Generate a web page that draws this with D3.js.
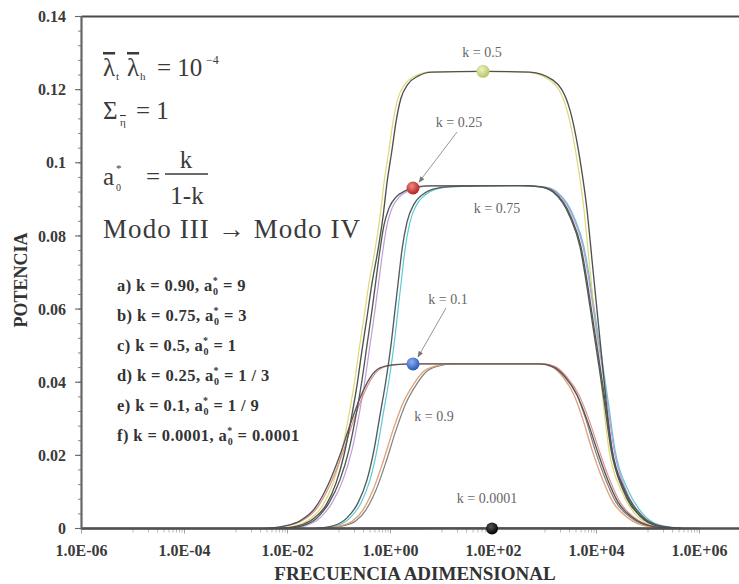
<!DOCTYPE html>
<html>
<head>
<meta charset="utf-8">
<script src="https://cdn.jsdelivr.net/npm/d3@7"></script>
<style>
  html, body { margin: 0; padding: 0; background: #fff; }
  svg { display: block; }
  text { font-family: "Liberation Serif", "Times New Roman", serif; }
</style>
</head>
<body>
<svg id="chart" width="739" height="584"></svg>
<script>
// ---- Power vs. dimensionless frequency, one curve per k (Modo III -> Modo IV) ----
// Frequencies are stored as base-10 exponents, power in absolute units.

const freqExp_k090 = [-1.369, -0.981, -0.728, -0.534, -0.340, -0.146, 0.049, 0.243, 0.437, 0.631, 0.864, 1.155, 2.903, 3.136, 3.350, 3.563, 3.738, 3.913, 4.107, 4.320, 4.612, 4.942, 5.388];
const power_k090   = [0, 0.0007, 0.0021, 0.0051, 0.0105, 0.0182, 0.0269, 0.0343, 0.0392, 0.0428, 0.0444, 0.0450, 0.0450, 0.0442, 0.0414, 0.0365, 0.0297, 0.0215, 0.0138, 0.0072, 0.0029, 0.0007, 0];

const freqExp_k075 = [-1.466, -1.117, -0.845, -0.631, -0.456, -0.320, -0.204, -0.087, 0.010, 0.087, 0.165, 0.223, 0.320, 0.456, 0.612, 0.825, 1.155, 2.515, 2.922, 3.175, 3.505, 3.699, 3.835, 3.951, 4.049, 4.165, 4.301, 4.553, 4.883, 5.233, 5.660];
const power_k075   = [0, 0.0007, 0.0029, 0.0070, 0.0133, 0.0215, 0.0310, 0.0406, 0.0502, 0.0597, 0.0693, 0.0762, 0.0838, 0.0887, 0.0912, 0.0928, 0.0935, 0.09375, 0.0934, 0.0920, 0.0852, 0.0770, 0.0660, 0.0551, 0.0461, 0.0351, 0.0215, 0.0105, 0.0034, 0.0007, 0];

const freqExp_k050 = [-2.146, -1.796, -1.505, -1.252, -1.058, -0.903, -0.767, -0.650, -0.553, -0.456, -0.359, -0.243, -0.146, -0.068, 0.029, 0.107, 0.204, 0.340, 0.534, 0.806, 1.796, 2.709, 3.155, 3.485, 3.680, 3.816, 3.913, 4.010, 4.107, 4.184, 4.301, 4.534, 4.845, 5.194, 5.621];
const power_k050   = [0, 0.0007, 0.0026, 0.0064, 0.0124, 0.0201, 0.0297, 0.0392, 0.0488, 0.0578, 0.0671, 0.0762, 0.0852, 0.0945, 0.1035, 0.1112, 0.1177, 0.1215, 0.1237, 0.1248, 0.125, 0.1248, 0.1226, 0.1144, 0.1008, 0.0871, 0.0734, 0.0597, 0.0461, 0.0351, 0.0215, 0.0105, 0.0034, 0.0007, 0];

const freqExp_k025 = [-2.049, -1.718, -1.427, -1.194, -0.981, -0.806, -0.670, -0.553, -0.456, -0.359, -0.282, -0.204, -0.126, -0.029, 0.107, 0.282, 0.437, 0.728, 2.515, 2.903, 3.155, 3.485, 3.680, 3.816, 3.932, 4.029, 4.146, 4.282, 4.515, 4.845, 5.194, 5.621];
const power_k025   = [0, 0.0007, 0.0029, 0.0070, 0.0133, 0.0215, 0.0310, 0.0406, 0.0502, 0.0597, 0.0680, 0.0762, 0.0830, 0.0876, 0.0906, 0.0923, 0.0931, 0.0937, 0.09375, 0.0934, 0.0920, 0.0852, 0.0770, 0.0660, 0.0551, 0.0461, 0.0351, 0.0215, 0.0105, 0.0034, 0.0007, 0];

const freqExp_k010 = [-2.437, -2.049, -1.757, -1.466, -1.214, -0.981, -0.786, -0.592, -0.398, -0.204, 0.087, 0.437, 2.903, 3.155, 3.388, 3.621, 3.816, 4.010, 4.204, 4.417, 4.709, 5.039, 5.466];
const power_k010   = [0, 0.0007, 0.0021, 0.0056, 0.0119, 0.0201, 0.0283, 0.0357, 0.0412, 0.0439, 0.0448, 0.0450, 0.0450, 0.0442, 0.0414, 0.0365, 0.0297, 0.0215, 0.0138, 0.0072, 0.0029, 0.0007, 0];

const freqExp_k00001 = [-6, -2, -1, 0, 1, 2, 3, 4, 5, 6];
const power_k00001   = [0, 0, 0.00001, 0.00004, 0.00005, 0.00005, 0.00005, 0.00004, 0.00001, 0];

// highlighted points on the curves: [frequency exponent, power]
const markerPoints = [[1.796, 0.125], [0.437, 0.0931], [0.437, 0.0450], [1.971, 0.0]];

// axis ticks
const yTickValues = [0, 0.02, 0.04, 0.06, 0.08, 0.10, 0.12, 0.14];
const yTickLabels = ["0", "0.02", "0.04", "0.06", "0.08", "0.1", "0.12", "0.14"];
const xTickExps   = [-6, -4, -2, 0, 2, 4, 6];
const xTickLabels = ["1.0E-06", "1.0E-04", "1.0E-02", "1.0E+00", "1.0E+02", "1.0E+04", "1.0E+06"];

// case list
const caseLetters = ["a)", "b)", "c)", "d)", "e)", "f)"];
const caseK       = ["0.90", "0.75", "0.5", "0.25", "0.1", "0.0001"];
const caseA0      = ["9", "3", "1", "1 / 3", "1 / 9", "0.0001"];

// ---------------------------------------------------------------------------
const W = 739, H = 584;
const svg = d3.select("#chart");

const x = d3.scaleLog().domain([1e-6, 1e6]).range([81.5, 699.5]);
const y = d3.scaleLinear().domain([0, 0.14]).range([528.5, 16.5]);
const fx = e => x(Math.pow(10, e));

const series = [
  { k: 0.9,    e: freqExp_k090,   p: power_k090 },
  { k: 0.75,   e: freqExp_k075,   p: power_k075 },
  { k: 0.5,    e: freqExp_k050,   p: power_k050 },
  { k: 0.25,   e: freqExp_k025,   p: power_k025 },
  { k: 0.1,    e: freqExp_k010,   p: power_k010 },
  { k: 0.0001, e: freqExp_k00001, p: power_k00001 }
].map(s => ({ k: s.k, pts: s.e.map((v, i) => [v, s.p[i]]) }));

// line styles: main stroke plus a thin companion trace drawn beside it
const style = {
  0.9:    { main: "#e0a27c", twin: "#6a6a6a", dx: 3 },
  0.75:   { main: "#525c5c", twin: "#40c2cc", dx: 3 },
  0.5:    { main: "#505050", twin: "#d9d15c", dx: -3 },
  0.25:   { main: "#4f5a53", twin: "#b78ccf", dx: 3 },
  0.1:    { main: "#575757", twin: "#d8807c", dx: 2 },
  0.0001: { main: "#222222", twin: null, dx: 0 }
};

const line = d3.line()
  .x(d => fx(d[0]))
  .y(d => y(d[1]))
  .curve(d3.curveMonotoneX);

const defs = svg.append("defs");
defs.append("marker")
  .attr("id", "arrow").attr("viewBox", "0 0 10 10")
  .attr("refX", 9).attr("refY", 5)
  .attr("markerWidth", 7).attr("markerHeight", 7)
  .attr("orient", "auto")
  .append("path").attr("d", "M0,1 L10,5 L0,9 z").attr("fill", "#777");

function ballGradient(id, light, dark) {
  const g = defs.append("radialGradient").attr("id", id)
    .attr("cx", "40%").attr("cy", "35%").attr("r", "65%");
  g.append("stop").attr("offset", "0%").attr("stop-color", light);
  g.append("stop").attr("offset", "100%").attr("stop-color", dark);
}
ballGradient("ballY", "#eef2c0", "#b8c466");
ballGradient("ballR", "#f08a80", "#b0221e");
ballGradient("ballB", "#8fb0f0", "#2a56b8");
ballGradient("ballK", "#555", "#000");

// ---- axes frame ----
const right = W + 5;
svg.append("line").attr("x1", x(1e-6)).attr("x2", right)
  .attr("y1", y(0.14)).attr("y2", y(0.14))
  .attr("stroke", "#4a4a4a").attr("stroke-width", 2);

// x minor ticks (10..90 within each two-decade step)
const xMinor = [];
xTickExps.slice(0, -1).forEach(e => {
  for (let m = 1; m <= 9; m++) xMinor.push(m * Math.pow(10, e + 1));
});
svg.append("g").selectAll("line").data(xMinor).join("line")
  .attr("x1", d => x(d)).attr("x2", d => x(d))
  .attr("y1", y(0)).attr("y2", y(0) + 4)
  .attr("stroke", "#aaa").attr("stroke-width", 0.8);
svg.append("g").selectAll("line").data(xTickExps).join("line")
  .attr("x1", d => fx(d)).attr("x2", d => fx(d))
  .attr("y1", y(0)).attr("y2", y(0) + 5)
  .attr("stroke", "#999").attr("stroke-width", 0.9);

// y ticks
const yMinor = d3.range(0, 0.1401, 0.004);
svg.append("g").selectAll("line").data(yMinor).join("line")
  .attr("x1", 78).attr("x2", x(1e-6))
  .attr("y1", d => y(d)).attr("y2", d => y(d))
  .attr("stroke", "#777").attr("stroke-width", 0.9);
svg.append("g").selectAll("line").data(yTickValues).join("line")
  .attr("x1", 75).attr("x2", x(1e-6))
  .attr("y1", d => y(d)).attr("y2", d => y(d))
  .attr("stroke", "#666").attr("stroke-width", 1.1);

svg.append("g").selectAll("text").data(yTickValues).join("text")
  .attr("x", 66).attr("y", d => y(d)).attr("dy", "0.35em")
  .attr("text-anchor", "end")
  .attr("font-size", 16).attr("font-weight", "bold").attr("fill", "#3a3a3a")
  .text((d, i) => yTickLabels[i]);

svg.append("g").selectAll("text").data(xTickExps).join("text")
  .attr("x", d => fx(d)).attr("y", 556)
  .attr("text-anchor", "middle")
  .attr("font-size", 16).attr("font-weight", "bold").attr("fill", "#3a3a3a")
  .text((d, i) => xTickLabels[i]);

// axis titles
svg.append("text")
  .attr("transform", "translate(27,280) rotate(-90)")
  .attr("text-anchor", "middle")
  .attr("font-size", 18).attr("font-weight", "bold").attr("fill", "#333")
  .text("POTENCIA");
svg.append("text")
  .attr("x", 415).attr("y", 580)
  .attr("text-anchor", "middle")
  .attr("font-size", 19).attr("font-weight", "bold").attr("fill", "#333")
  .text("FRECUENCIA ADIMENSIONAL");

// ---- curves ----
const gCurves = svg.append("g").attr("fill", "none");
series.forEach(s => {
  const st = style[s.k];
  if (st.twin) {
    gCurves.append("path").datum(s.pts)
      .attr("d", line)
      .attr("transform", `translate(${st.dx},0)`)
      .attr("stroke", st.twin).attr("stroke-width", 1.2).attr("opacity", 0.85);
  }
});
series.forEach(s => {
  const st = style[s.k];
  gCurves.append("path").datum(s.pts)
    .attr("d", line)
    .attr("stroke", st.main).attr("stroke-width", s.k === 0.0001 ? 1.6 : 1.35);
});

// axis lines on top of the curve ends
svg.append("line").attr("x1", x(1e-6)).attr("x2", right)
  .attr("y1", y(0)).attr("y2", y(0))
  .attr("stroke", "#505050").attr("stroke-width", 2.4);
svg.append("line").attr("x1", x(1e-6)).attr("x2", x(1e-6))
  .attr("y1", y(0.14)).attr("y2", y(0) + 1)
  .attr("stroke", "#666").attr("stroke-width", 2.2);

// ---- curve annotations ----
const curveLabels = [
  { t: "k = 0.5",    e: 1.777, p: 0.1303 },
  { t: "k = 0.25",   e: 1.330, p: 0.1112 },
  { t: "k = 0.75",   e: 2.068, p: 0.0876 },
  { t: "k = 0.1",    e: 1.117, p: 0.0628 },
  { t: "k = 0.9",    e: 0.845, p: 0.0308 },
  { t: "k = 0.0001", e: 1.874, p: 0.0083 }
];
svg.append("g").selectAll("text").data(curveLabels).join("text")
  .attr("x", d => fx(d.e)).attr("y", d => y(d.p)).attr("dy", "0.35em")
  .attr("text-anchor", "middle")
  .attr("font-size", 14).attr("fill", "#666")
  .text(d => d.t);

const leaders = [
  { e0: 1.291, p0: 0.1084, e1: 0.553, p1: 0.0947 },
  { e0: 1.078, p0: 0.0603, e1: 0.534, p1: 0.0469 }
];
svg.append("g").selectAll("line").data(leaders).join("line")
  .attr("x1", d => fx(d.e0)).attr("y1", d => y(d.p0))
  .attr("x2", d => fx(d.e1)).attr("y2", d => y(d.p1))
  .attr("stroke", "#8a8a8a").attr("stroke-width", 0.9)
  .attr("marker-end", "url(#arrow)");

const ballFill = ["url(#ballY)", "url(#ballR)", "url(#ballB)", "url(#ballK)"];
svg.append("g").selectAll("circle").data(markerPoints).join("circle")
  .attr("cx", d => fx(d[0])).attr("cy", d => y(d[1]))
  .attr("r", (d, i) => i === 3 ? 6 : 6.5)
  .attr("fill", (d, i) => ballFill[i]);

// ---- parameter block ----
const ink = "#3a3a3a";
const t1 = svg.append("text").attr("y", 76).attr("font-size", 25).attr("fill", ink);
t1.append("tspan").attr("x", 103).style("text-decoration", "overline").text("λ");
t1.append("tspan").attr("x", 116).attr("y", 80).attr("font-size", 11).text("t");
t1.append("tspan").attr("x", 127).attr("y", 76).style("text-decoration", "overline").text("λ");
t1.append("tspan").attr("x", 140).attr("y", 80).attr("font-size", 11).text("h");
t1.append("tspan").attr("x", 157).attr("y", 76).text("= 10");
t1.append("tspan").attr("x", 206).attr("y", 64).attr("font-size", 12).text("−4");

const t2 = svg.append("text").attr("y", 119).attr("font-size", 25).attr("fill", ink);
t2.append("tspan").attr("x", 103).text("Σ");
t2.append("tspan").attr("x", 120).attr("y", 126).attr("font-size", 11)
  .style("text-decoration", "overline").text("η");
t2.append("tspan").attr("x", 136).attr("y", 119).text("= 1");

const t3 = svg.append("text").attr("y", 185).attr("font-size", 25).attr("fill", ink);
t3.append("tspan").attr("x", 103).text("a");
t3.append("tspan").attr("x", 116).attr("y", 172).attr("font-size", 11).text("*");
t3.append("tspan").attr("x", 116).attr("y", 191).attr("font-size", 10).text("0");
t3.append("tspan").attr("x", 146).attr("y", 185).text("=");
svg.append("text").attr("x", 186).attr("y", 168).attr("text-anchor", "middle")
  .attr("font-size", 25).attr("fill", ink).text("k");
svg.append("line").attr("x1", 165).attr("x2", 208).attr("y1", 174).attr("y2", 174)
  .attr("stroke", ink).attr("stroke-width", 1.4);
svg.append("text").attr("x", 187).attr("y", 204).attr("text-anchor", "middle")
  .attr("font-size", 25).attr("fill", ink).text("1-k");

svg.append("text").attr("x", 103).attr("y", 238)
  .attr("font-size", 27).attr("fill", ink)
  .attr("textLength", 257).attr("lengthAdjust", "spacing")
  .text("Modo III → Modo IV");

// ---- case list ----
const gCases = svg.append("g")
  .attr("font-size", 16.5).attr("font-weight", "bold").attr("fill", "#333")
  .attr("letter-spacing", 0.4);
caseK.forEach((k, i) => {
  const by = 291 + i * 30;
  const t = gCases.append("text").attr("x", 117).attr("y", by);
  t.append("tspan").text(`${caseLetters[i]} k = ${k}, a`);
  t.append("tspan").attr("font-size", 10).attr("dy", -7).text("*");
  t.append("tspan").attr("font-size", 10).attr("dx", -5).attr("dy", 11).text("0");
  t.append("tspan").attr("dy", -4).text(` = ${caseA0[i]}`);
});
</script>
</body>
</html>
